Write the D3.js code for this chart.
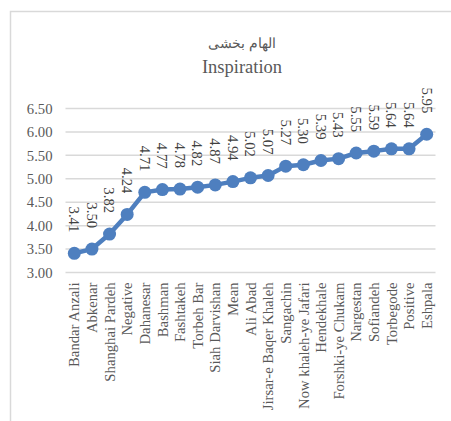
<!DOCTYPE html>
<html><head><meta charset="utf-8">
<script src="https://cdn.jsdelivr.net/npm/d3@7"></script>
<style>html,body{margin:0;padding:0;background:#fff;}svg{display:block;}</style>
</head><body>
<script>
const categories = ["Bandar Anzali","Abkenar","Shanghai Pardeh","Negative","Dahanesar","Bashman","Fashtakeh","Torbeh Bar","Siah Darvishan","Mean","Ali Abad","Jirsar-e Baqer Khaleh","Sangachin","Now khaleh-ye Jafari","Hendekhale","Forshki-ye Chukam","Nargestan","Sofiandeh","Torbegode","Positive","Eshpala"];
const values = [3.41,3.50,3.82,4.24,4.71,4.77,4.78,4.82,4.87,4.94,5.02,5.07,5.27,5.30,5.39,5.43,5.55,5.59,5.64,5.64,5.95];
const yTicks = [3.0,3.5,4.0,4.5,5.0,5.5,6.0,6.5];
const titleLines = ["الهام بخشی","Inspiration"];

const W=451,H=421;
const font = "'Liberation Serif','Times New Roman',serif";
const svg = d3.select("body").append("svg").attr("width",W).attr("height",H);
svg.append("rect").attr("x",10.5).attr("y",11.5).attr("width",600).attr("height",600)
  .attr("fill","#fff").attr("stroke","#d9d9d9").attr("stroke-width",1.5);

const x = d3.scaleBand().domain(categories).range([65.5,435.5]);
const y = d3.scaleLinear().domain([3,6.5]).range([272.5,108.5]);

// gridlines
svg.append("g").selectAll("line").data(yTicks).join("line")
  .attr("x1",65.5).attr("x2",435.5).attr("y1",d=>y(d)).attr("y2",d=>y(d))
  .attr("stroke","#d9d9d9").attr("stroke-width",1.5);

// y axis
const yAxis = svg.append("g").attr("transform","translate(65.5,0)")
  .call(d3.axisLeft(y).tickValues(yTicks).tickFormat(d3.format(".2f")).tickSize(0).tickPadding(13));
yAxis.select(".domain").remove();
yAxis.selectAll("text").attr("font-family",font).attr("font-size","14.7px").attr("fill","#595959");

// x axis
const xAxis = svg.append("g").attr("transform","translate(0,272.5)")
  .call(d3.axisBottom(x).tickSize(0).tickPadding(0));
xAxis.select(".domain").remove();
xAxis.selectAll("text").attr("font-family",font).attr("font-size","14.7px").attr("fill","#595959")
  .attr("transform","translate(0,10) rotate(-90)").attr("text-anchor","end")
  .attr("dy","0.35em").attr("x",0).attr("y",0);

// line
const cx = d=>x(d.c)+x.bandwidth()/2;
const data = categories.map((c,i)=>({c,v:values[i]}));
svg.append("path").datum(data)
  .attr("d",d3.line().x(cx).y(d=>y(d.v)))
  .attr("fill","none").attr("stroke","#4e7fbf").attr("stroke-width",4.5).attr("stroke-linejoin","round");
svg.append("g").selectAll("circle").data(data).join("circle")
  .attr("cx",cx).attr("cy",d=>y(d.v)).attr("r",6.5).attr("fill","#4e7fbf");

// data labels
svg.append("g").selectAll("text").data(data).join("text")
  .attr("transform",d=>`translate(${cx(d)},${y(d.v)-21}) rotate(90)`)
  .attr("text-anchor","end").attr("dy","0.35em")
  .attr("font-family",font).attr("font-size","14.7px").attr("fill","#404040")
  .text(d=>d3.format(".2f")(d.v));

// title
svg.append("text").attr("x",242).attr("y",48).attr("text-anchor","middle")
  .attr("font-family","'DejaVu Serif','Noto Sans',serif").attr("font-size","14px").attr("fill","#595959")
  .text(titleLines[0]);
svg.append("text").attr("x",242).attr("y",73).attr("text-anchor","middle")
  .attr("font-family",font).attr("font-size","18.5px").attr("fill","#595959")
  .text(titleLines[1]);
</script>
</body></html>
